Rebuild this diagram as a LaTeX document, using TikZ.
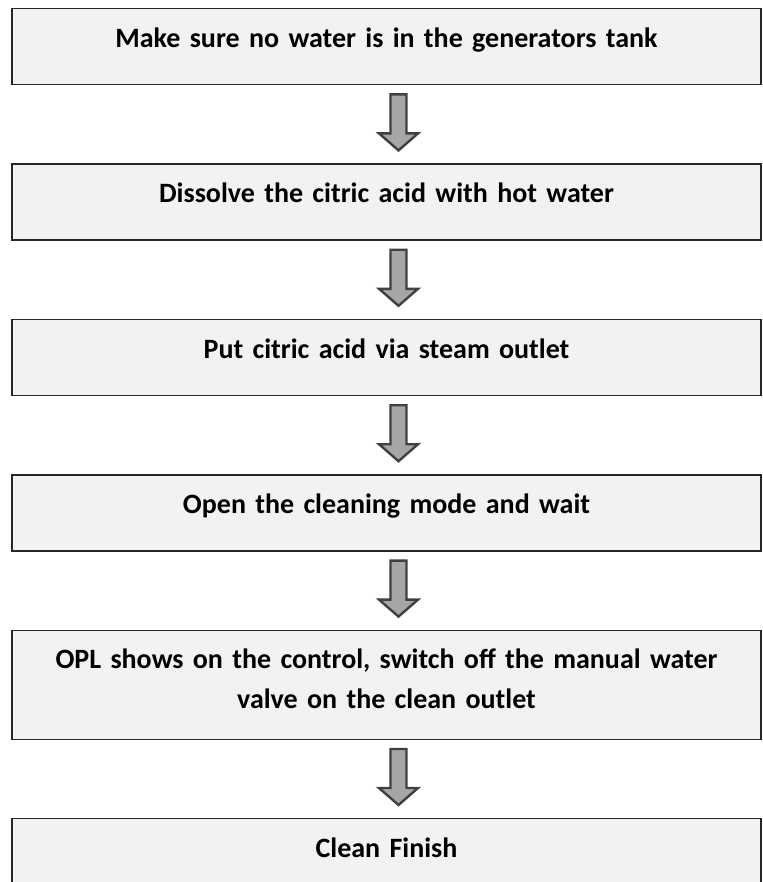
\documentclass[tikz,border=0pt]{standalone}
\usepackage{fontspec}
\setmainfont{Carlito}
\usetikzlibrary{positioning,calc}
\definecolor{boxfill}{HTML}{F2F2F2}
\definecolor{arrowfill}{HTML}{A6A6A6}
\definecolor{arrowline}{HTML}{404040}

\begin{document}
\begin{tikzpicture}[x=1pt,y=1pt,
  stepbox/.style={draw=black!85, line width=1.4pt, fill=boxfill, inner sep=0pt,
    text width=749pt, align=center, text height=38.5pt, text depth=37.5pt,
    font=\fontsize{28}{40}\selectfont\bfseries},
  flow/.style={draw=arrowline, fill=arrowfill, line width=2.4pt, line join=miter},
  node distance=78pt]

 \useasboundingbox (0,0) rectangle (762,-882);
 \clip (0,0) rectangle (762,-882);

 \node[stepbox, anchor=north] (s1) at (386.5,-8) {Make sure no water is in the generators tank};
 \node[stepbox, below=of s1] (s2) {Dissolve the citric acid with hot water};
 \node[stepbox, below=of s2] (s3) {Put citric acid via steam outlet};
 \node[stepbox, below=of s3] (s4) {Open the cleaning mode and wait};
 \node[stepbox, below=of s4, text depth=70.5pt] (s5) {OPL shows on the control, switch off the manual water\\ valve on the clean outlet};
 \node[stepbox, below=of s5] (s6) {Clean Finish};

 % block arrows between the steps
 \foreach \a/\b in {s1/s2,s2/s3,s3/s4,s4/s5,s5/s6}
  \draw[flow] let \p1=($(\a.south)+(12pt,-9pt)$), \p2=($(\b.north)+(12pt,13pt)$) in
   (\x1-8pt,\y1) -- (\x1+8pt,\y1) -- (\x1+8pt,\y2+17pt) -- (\x1+19.5pt,\y2+17pt) -- (\x2,\y2)
   -- (\x1-19.5pt,\y2+17pt) -- (\x1-8pt,\y2+17pt) -- cycle;
\end{tikzpicture}
\end{document}
